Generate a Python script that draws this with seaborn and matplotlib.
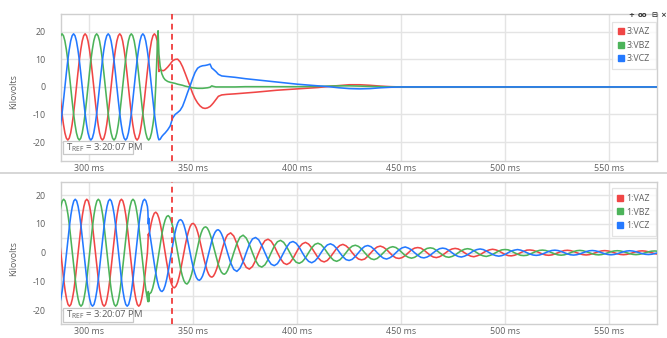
import numpy as np
import pandas as pd
import matplotlib
matplotlib.use("Agg")
import matplotlib.pyplot as plt
import seaborn as sns
from matplotlib.lines import Line2D
from matplotlib.patches import Rectangle

# ---------------------------------------------------------------- data ----
CHANNELS_TOP = ["3:VAZ", "3:VBZ", "3:VCZ"]
CHANNELS_BOT = ["1:VAZ", "1:VBZ", "1:VCZ"]
COLORS = ["#f04646", "#4cb35a", "#2479ff"]

T_TRIGGER_MS = 339.7
X_TICKS_MS = [300, 350, 400, 450, 500, 550]
Y_TICKS_KV = [-20, -10, 0, 10, 20]
T_REF_LABEL = "3:20:07 PM"

# Relay 3: pre-fault record, uniform sampling (start ms, step ms)
R3_PRE_T0, R3_PRE_DT = 285.40, 0.6944
r3_pre_vaz = [0.0, -5.0, -9.7, -13.6, -16.7, -18.6, -19.3, -18.6, -16.7, -13.6, -9.7, -5.0,
              0.0, 5.0, 9.7, 13.6, 16.7, 18.6,
              19.3, 18.6, 16.7, 13.6, 9.7, 5.0, 0.0, -5.0, -9.7, -13.6, -16.7, -18.6,
              -19.3, -18.6, -16.7, -13.6, -9.7, -5.0, 0.0, 5.0, 9.7, 13.6, 16.7, 18.6,
              19.3, 18.6, 16.7, 13.6, 9.7, 5.0, 0.0, -5.0, -9.7, -13.6, -16.7, -18.6,
              -19.3, -18.6, -16.7, -13.6, -9.7, -5.0, 0.0, 5.0, 9.7, 13.6, 16.7, 18.6,
              19.3, 18.6]
r3_pre_vbz = [16.7, 18.6,
              19.3, 18.6, 16.7, 13.6, 9.7, 5.0, 0.0, -5.0, -9.7, -13.6, -16.7, -18.6,
              -19.3, -18.6, -16.7, -13.6, -9.7, -5.0, 0.0, 5.0, 9.7, 13.6, 16.7, 18.6,
              19.3, 18.6, 16.7, 13.6, 9.7, 5.0, 0.0, -5.0, -9.7, -13.6, -16.7, -18.6,
              -19.3, -18.6, -16.7, -13.6, -9.7, -5.0, 0.0, 5.0, 9.7, 13.6, 16.7, 18.6,
              19.3, 18.6, 16.7, 13.6, 9.7, 5.0, 0.0, -5.0, -9.7, -13.6, -16.7, -18.6,
              -19.3, -18.6, -16.7, -13.6, -9.7, 1.0]
r3_pre_vcz = [-16.7, -13.6, -9.7, -5.0, 0.0, 5.0, 9.7, 13.6, 16.7, 18.6,
              19.3, 18.6, 16.7, 13.6, 9.7, 5.0, 0.0, -5.0, -9.7, -13.6, -16.7, -18.6,
              -19.3, -18.6, -16.7, -13.6, -9.7, -5.0, 0.0, 5.0, 9.7, 13.6, 16.7, 18.6,
              19.3, 18.6, 16.7, 13.6, 9.7, 5.0, 0.0, -5.0, -9.7, -13.6, -16.7, -18.6,
              -19.3, -18.6, -16.7, -13.6, -9.7, -5.0, 0.0, 5.0, 9.7, 13.6, 16.7, 18.6,
              19.3, 18.6, 16.7, 13.6, 9.7, 5.0, 0.0, -5.0, -9.7, -13.6]

# Relay 3: fault and breaker opening (irregular samples)
r3_post_t = [332.6, 333.0, 333.4, 334.0, 334.8, 335.6, 336.4, 337.6, 338.8, 340.0,
             341.2, 342.4, 343.6, 344.8, 346.0, 347.2, 348.4, 349.6, 350.8, 352.0,
             353.2, 354.4, 355.6, 356.8, 358.0, 358.8, 359.6, 360.8, 362.0, 363.6,
             366.0, 370.0, 375.0, 380.0, 390.0, 400.0, 410.0, 415.0, 420.0, 425.0,
             430.0, 435.0, 440.0, 445.0, 450.0, 480.0, 520.0, 575.0]
r3_post_vaz = [16.7, 10.0, 5.6, 6.2, 6.0, 5.9, 6.3, 7.2, 8.3, 9.5,
               10.0, 10.1, 9.1, 7.3, 5.0, 2.6, 0.2, -2.3, -4.3, -5.8,
               -6.9, -7.6, -7.8, -7.6, -7.1, -6.5, -5.8, -4.6, -3.4, -2.9,
               -2.7, -2.5, -2.2, -1.9, -1.2, -0.7, -0.2, 0.2, 0.5, 0.8,
               0.8, 0.6, 0.3, 0.1, 0.0, 0.0, 0.0, 0.0]
r3_post_vbz = [14.0, 20.4, 12.0, 7.5, 4.8, 3.4, 2.6, 2.0, 1.7, 1.5,
               1.3, 1.0, 0.8, 0.6, 0.3, 0.1, -0.1, -0.3, -0.4, -0.5,
               -0.5, -0.5, -0.4, -0.3, -0.1, 0.4, 0.2, 0.0, 0.0, 0.0,
               0.0, 0.0, 0.1, 0.1, 0.1, 0.1, 0.2, 0.3, 0.4, 0.4,
               0.3, 0.2, 0.1, 0.0, 0.0, 0.0, 0.0, 0.0]
r3_post_vcz = [-16.7, -18.3, -19.2, -19.0, -18.0, -17.3, -16.7, -15.6, -14.2, -11.3,
               -10.0, -9.3, -8.5, -7.0, -4.6, -2.0, 0.4, 3.0, 5.3, 6.8,
               7.4, 7.7, 7.8, 8.0, 8.3, 6.9, 6.4, 5.6, 4.6, 4.0,
               3.8, 3.5, 3.0, 2.6, 1.8, 1.0, 0.4, 0.1, -0.3, -0.6,
               -0.7, -0.6, -0.3, -0.1, 0.0, 0.0, 0.0, 0.0]

# Relay 1: pre-fault record
R1_PRE_T0, R1_PRE_DT = 285.51, 0.6944
r1_pre_vaz = [4.8, 0.0, -4.8, -9.3, -13.2, -16.1, -18.0, -18.6, -18.0, -16.1, -13.2, -9.3,
              -4.8, 0.0, 4.8, 9.3, 13.2, 16.1, 18.0,
              18.6, 18.0, 16.1, 13.2, 9.3, 4.8, 0.0, -4.8, -9.3, -13.2, -16.1, -18.0,
              -18.6, -18.0, -16.1, -13.2, -9.3, -4.8, 0.0, 4.8, 9.3, 13.2, 16.1, 18.0,
              18.6, 18.0, 16.1, 13.2, 9.3, 4.8, 0.0, -4.8, -9.3, -13.2, -16.1, -18.0,
              -18.6, -18.0, -16.1, -13.2, -9.3, -4.8, 0.0]
r1_pre_vbz = [13.2, 16.1, 18.0,
              18.6, 18.0, 16.1, 13.2, 9.3, 4.8, 0.0, -4.8, -9.3, -13.2, -16.1, -18.0,
              -18.6, -18.0, -16.1, -13.2, -9.3, -4.8, 0.0, 4.8, 9.3, 13.2, 16.1, 18.0,
              18.6, 18.0, 16.1, 13.2, 9.3, 4.8, 0.0, -4.8, -9.3, -13.2, -16.1, -18.0,
              -18.6, -18.0, -16.1, -13.2, -9.3, -4.8, 0.0, 4.8, 9.3, 13.2, 16.1, 18.0,
              18.6, 18.0, 16.1, 13.2, 9.3, 4.8, 0.0, -4.8, -9.3, -13.2, -16.1]
r1_pre_vcz = [-18.0, -16.1, -13.2, -9.3, -4.8, 0.0, 4.8, 9.3, 13.2, 16.1, 18.0,
              18.6, 18.0, 16.1, 13.2, 9.3, 4.8, 0.0, -4.8, -9.3, -13.2, -16.1, -18.0,
              -18.6, -18.0, -16.1, -13.2, -9.3, -4.8, 0.0, 4.8, 9.3, 13.2, 16.1, 18.0,
              18.6, 18.0, 16.1, 13.2, 9.3, 4.8, 0.0, -4.8, -9.3, -13.2, -16.1, -18.0,
              -18.6, -18.0, -16.1, -13.2, -9.3, -4.8, 0.0, 4.8, 9.3, 13.2, 16.1, 18.0,
              18.6, 18.0, 16.1]

# Relay 1: switching disturbance
r1_evt_t = [328.1, 328.3, 328.5, 328.7]
r1_evt_vaz = [3.0, 6.5, 5.8, 6.9]
r1_evt_vbz = [-17.0, -13.5, -17.0, -14.5]
r1_evt_vcz = [14.5, 10.0, 12.0, 8.5]

# Relay 1: ring-down, fine sampling
R1_RING_T0, R1_RING_DT = 328.9, 0.75
r1_ring_vaz = [7.2, 10.1, 12.3, 13.7, 14.1, 13.5, 12.0, 9.7, 6.8, 3.5, 0.0, -3.4, -6.4,
               -9.0, -10.8, -12.0, -12.2, -11.6, -10.3, -8.3, -5.8, -2.9, 0.0, 2.8, 5.4,
               7.5, 9.1, 10.0, 10.2, 9.7, 8.6, 6.9, 4.8, 2.4, 0.0, -2.4, -4.5, -6.3, -7.6,
               -8.3, -8.5, -8.1, -7.1, -5.7, -4.0, -2.0, 0.0, 2.0, 3.7, 5.2, 6.2]
r1_ring_vbz = [-14.3, -13.8, -12.3, -10.0, -7.1, -3.6, 0.0, 3.5, 6.8, 9.4, 11.4, 12.6, 12.9,
               12.3, 10.8, 8.8, 6.1, 3.1, 0.0, -3.0, -5.8, -8.0, -9.7, -10.6, -10.9,
               -10.3, -9.1, -7.4, -5.1, -2.6, 0.0, 2.5, 4.8, 6.7, 8.1, 8.8, 9.0, 8.6, 7.6,
               6.1, 4.3, 2.2, 0.0, -2.1, -4.0, -5.5, -6.7, -7.3, -7.5, -7.1, -6.2]
r1_ring_vcz = [7.2, 3.7, 0.0, -3.7, -7.1, -9.9, -12.0, -13.2, -13.5, -12.9, -11.4, -9.2, -6.4,
               -3.3, 0.0, 3.2, 6.1, 8.5, 10.3, 11.3, 11.5, 11.0, 9.7, 7.8, 5.4,
               2.8, 0.0, -2.7, -5.1, -7.1, -8.6, -9.4, -9.6, -9.1, -8.1, -6.5, -4.5, -2.3, 0.0,
               2.2, 4.3, 5.9, 7.1, 7.8, 8.0, 7.6, 6.7, 5.4, 3.7, 1.9, 0.0]

# Relay 1: ring-down tail, coarse sampling
R1_TAIL_T0, R1_TAIL_DT = 367.9, 1.5
r1_tail_vaz = [6.9, 5.8, 3.2, 0.0, -3.1, -5.1, -5.7, -4.8, -2.7, 0.0, 2.5, 4.2,
               4.7, 4.0, 2.3, 0.0, -2.1, -3.6, -4.1, -3.5, -2.0, 0.0, 1.9, 3.1,
               3.6, 3.0, 1.7, 0.0, -1.7, -2.8, -3.2, -2.7, -1.5, 0.0, 1.5, 2.5,
               2.9, 2.4, 1.4, 0.0, -1.3, -2.2, -2.5, -2.2, -1.2, 0.0, 1.2, 2.0,
               2.3, 1.9, 1.1, 0.0, -1.1, -1.8, -2.0, -1.7, -1.0, 0.0, 1.0, 1.6,
               1.8, 1.6, 0.9, 0.0, -0.9, -1.5, -1.7, -1.4, -0.8, 0.0, 0.8, 1.3,
               1.5, 1.3, 0.7, 0.0, -0.7, -1.2, -1.4, -1.1, -0.7, 0.0, 0.6, 1.0,
               1.2, 1.0, 0.6, 0.0, -0.6, -1.0, -1.1, -0.9, -0.5, 0.0, 0.5, 0.9,
               0.95, 0.81, 0.47, 0.0, -0.46, -0.78, -0.9, -0.77, -0.44, 0.0, 0.43, 0.74,
               0.84, 0.72, 0.41, 0.0, -0.4, -0.68, -0.78, -0.67, -0.38, 0.0, 0.38, 0.64,
               0.73, 0.62, 0.36, 0.0, -0.35, -0.61, -0.69, -0.59, -0.34, 0.0, 0.34, 0.57,
               0.65, 0.55, 0.32, 0.0, -0.31, -0.52]
r1_tail_vbz = [-3.5, 0.0, 3.2, 5.4, 6.1, 5.1, 2.9, 0.0, -2.7, -4.5, -5.0, -4.2,
               -2.4, 0.0, 2.3, 3.8, 4.3, 3.6, 2.0, 0.0, -2.0, -3.3, -3.7, -3.1,
               -1.8, 0.0, 1.7, 2.9, 3.3, 2.8, 1.6, 0.0, -1.5, -2.6, -3.0, -2.5,
               -1.4, 0.0, 1.4, 2.3, 2.6, 2.2, 1.3, 0.0, -1.2, -2.1, -2.4, -2.0,
               -1.1, 0.0, 1.1, 1.8, 2.1, 1.8, 1.0, 0.0, -1.0, -1.6, -1.9, -1.6,
               -0.9, 0.0, 0.9, 1.5, 1.7, 1.5, 0.8, 0.0, -0.8, -1.4, -1.6, -1.3,
               -0.8, 0.0, 0.7, 1.2, 1.4, 1.2, 0.7, 0.0, -0.7, -1.1, -1.3, -1.0,
               -0.6, 0.0, 0.6, 1.0, 1.1, 1.0, 0.6, 0.0, -0.5, -0.9, -1.0, -0.9,
               -0.48, 0.0, 0.47, 0.8, 0.91, 0.78, 0.45, 0.0, -0.44, -0.75, -0.86, -0.74,
               -0.42, 0.0, 0.41, 0.7, 0.8, 0.68, 0.39, 0.0, -0.38, -0.65, -0.75, -0.64,
               -0.37, 0.0, 0.36, 0.61, 0.7, 0.61, 0.35, 0.0, -0.34, -0.58, -0.67, -0.57,
               -0.33, 0.0, 0.32, 0.54, 0.61, 0.52]
r1_tail_vcz = [-3.5, -5.8, -6.5, -5.4, -3.1, 0.0, 2.9, 4.8, 5.3, 4.5, 2.5, 0.0,
               -2.4, -4.0, -4.5, -3.8, -2.1, 0.0, 2.0, 3.5, 3.9, 3.3, 1.9, 0.0,
               -1.8, -3.0, -3.5, -2.9, -1.7, 0.0, 1.6, 2.7, 3.1, 2.6, 1.5, 0.0,
               -1.4, -2.4, -2.7, -2.3, -1.3, 0.0, 1.3, 2.2, 2.5, 2.1, 1.2, 0.0,
               -1.1, -1.9, -2.2, -1.8, -1.1, 0.0, 1.0, 1.7, 2.0, 1.6, 1.0, 0.0,
               -0.9, -1.6, -1.8, -1.5, -0.9, 0.0, 0.8, 1.4, 1.6, 1.4, 0.8, 0.0,
               -0.8, -1.3, -1.5, -1.2, -0.7, 0.0, 0.7, 1.1, 1.3, 1.1, 0.6, 0.0,
               -0.6, -1.0, -1.2, -1.0, -0.6, 0.0, 0.6, 0.9, 1.1, 0.9, 0.5, 0.0,
               -0.48, -0.81, -0.93, -0.8, -0.46, 0.0, 0.45, 0.77, 0.88, 0.75, 0.43, 0.0,
               -0.42, -0.72, -0.82, -0.7, -0.4, 0.0, 0.39, 0.67, 0.76, 0.65, 0.38, 0.0,
               -0.37, -0.62, -0.72, -0.61, -0.35, 0.0, 0.35, 0.59, 0.68, 0.58, 0.34, 0.0,
               -0.33, -0.55, -0.63, -0.54, -0.31, 0.0]


def sampled(t0, dt, values):
    return t0 + dt * np.arange(len(values))


def long_frame(times, columns, names):
    wide = pd.DataFrame({"ms": times})
    for name, col in zip(names, columns):
        wide[name] = col
    return wide.melt(id_vars="ms", var_name="channel", value_name="kV")


top_t = np.concatenate([sampled(R3_PRE_T0, R3_PRE_DT, r3_pre_vaz), r3_post_t])
top_df = long_frame(top_t,
                    [r3_pre_vaz + r3_post_vaz, r3_pre_vbz + r3_post_vbz, r3_pre_vcz + r3_post_vcz],
                    CHANNELS_TOP)

bot_t = np.concatenate([sampled(R1_PRE_T0, R1_PRE_DT, r1_pre_vaz), r1_evt_t,
                        sampled(R1_RING_T0, R1_RING_DT, r1_ring_vaz),
                        sampled(R1_TAIL_T0, R1_TAIL_DT, r1_tail_vaz)])
bot_df = long_frame(bot_t,
                    [r1_pre_vaz + r1_evt_vaz + r1_ring_vaz + r1_tail_vaz,
                     r1_pre_vbz + r1_evt_vbz + r1_ring_vbz + r1_tail_vbz,
                     r1_pre_vcz + r1_evt_vcz + r1_ring_vcz + r1_tail_vcz],
                    CHANNELS_BOT)

# --------------------------------------------------------------- style ----
sns.set_theme(style="white")
plt.rcParams["font.family"] = ["Open Sans", "DejaVu Sans"]
plt.rcParams["axes.unicode_minus"] = False
plt.rcParams["mathtext.fontset"] = "custom"
plt.rcParams["mathtext.rm"] = "Open Sans"

W, H = 667, 338
fig = plt.figure(figsize=(W / 100, H / 100), dpi=100)
fig.patch.set_facecolor("white")

FS = 6.4
TEXT_GREY = "#5f5f5f"
GRID_GREY = "#e4e4e4"


def fig_rect(x0, y0, x1, y1):
    """Pixel box (top-left origin) -> figure-fraction rect."""
    return [x0 / W, 1 - y1 / H, (x1 - x0) / W, (y1 - y0) / H]


ax_top = fig.add_axes(fig_rect(61, 14, 657, 161))
ax_bot = fig.add_axes(fig_rect(61, 182, 657, 324))


def draw_panel(ax, df, names, ylim, minor_grid, tref_box, legend_top_px, ylabel_y):
    sns.lineplot(data=df, x="ms", y="kV", hue="channel", hue_order=names,
                 palette=dict(zip(names, COLORS)), estimator=None, linewidth=1.15,
                 legend=False, ax=ax, zorder=3)
    ax.set_xlim(286.3, 573.0)
    ax.set_ylim(*ylim)
    ax.set_xticks(X_TICKS_MS)
    ax.set_xticklabels([f"{v} ms" for v in X_TICKS_MS])
    ax.set_yticks(Y_TICKS_KV)
    ax.set_yticklabels([str(v) for v in Y_TICKS_KV])
    if minor_grid:
        ax.set_yticks([-15, -5, 5, 15], minor=True)
        ax.grid(which="minor", axis="y", color=GRID_GREY, lw=1.0, zorder=0)
    ax.grid(which="major", color=GRID_GREY, lw=1.0, zorder=0)
    ax.set_axisbelow(True)
    ax.tick_params(axis="both", which="both", length=0, labelsize=FS, labelcolor=TEXT_GREY)
    ax.tick_params(axis="y", pad=11)
    ax.tick_params(axis="x", pad=2)
    ax.set_xlabel("")
    ax.set_ylabel("")
    for s in ax.spines.values():
        s.set_color("#cfcfcf")
        s.set_linewidth(1.0)
    ax.axvline(T_TRIGGER_MS, color="#f03c3c", lw=1.3, ls=(0, (3.2, 2.4)), zorder=4)

    # channel legend with square swatches
    handles = [Line2D([], [], ls="", marker="s", markersize=3.8, color=c) for c in COLORS]
    axh = ax.get_position().height * H
    leg = ax.legend(handles, names, loc="upper right",
                    bbox_to_anchor=(1.0 - 1.0 / 596, 1 - legend_top_px / axh),
                    borderaxespad=0, frameon=True, fancybox=False, fontsize=FS,
                    handlelength=0.6, handletextpad=0.4, labelspacing=0.5,
                    borderpad=0.65)
    leg.get_frame().set_edgecolor("#dcdcdc")
    leg.get_frame().set_linewidth(0.9)
    for txt in leg.get_texts():
        txt.set_color(TEXT_GREY)

    # reference-time badge
    x0, y0, x1, y1 = tref_box
    fig.patches.append(Rectangle((x0 / W, 1 - y1 / H), (x1 - x0) / W, (y1 - y0) / H,
                                 transform=fig.transFigure, facecolor="white",
                                 edgecolor="#c8c8c8", lw=0.9, zorder=5))
    fig.text((x0 + 3.5) / W, 1 - (y0 + y1) / 2 / H, r"T$_{\mathrm{REF}}$ = " + T_REF_LABEL,
             fontsize=6.8, color=TEXT_GREY, ha="left", va="center", zorder=6)
    fig.text(14 / W, 1 - ylabel_y / H, "Kilovolts", rotation=90, fontsize=FS,
             color=TEXT_GREY, ha="center", va="center")


draw_panel(ax_top, top_df, CHANNELS_TOP, (-26.9, 26.5), False,
           (62.7, 140.7, 133.3, 154.5), 7.7, 92)
draw_panel(ax_bot, bot_df, CHANNELS_BOT, (-24.8, 24.6), True,
           (62.7, 308.3, 133.3, 322.0), 6.3, 259)

# separator between the two stacked charts
fig.add_artist(Line2D([0, 1], [1 - 172.5 / H, 1 - 172.5 / H], transform=fig.transFigure,
                      color="#d6d6d6", lw=1.4))

# small toolbar glyphs in the upper-right corner
for xp, glyph in [(631, "+"), (642, "oo"), (654, "⊟"), (663, "×")]:
    fig.text(xp / W, 1 - 15 / H, glyph, fontsize=5, color="#333333",
             ha="center", va="center", family=["DejaVu Sans"], weight="bold")

fig.savefig("out.png", dpi=100, facecolor="white")
